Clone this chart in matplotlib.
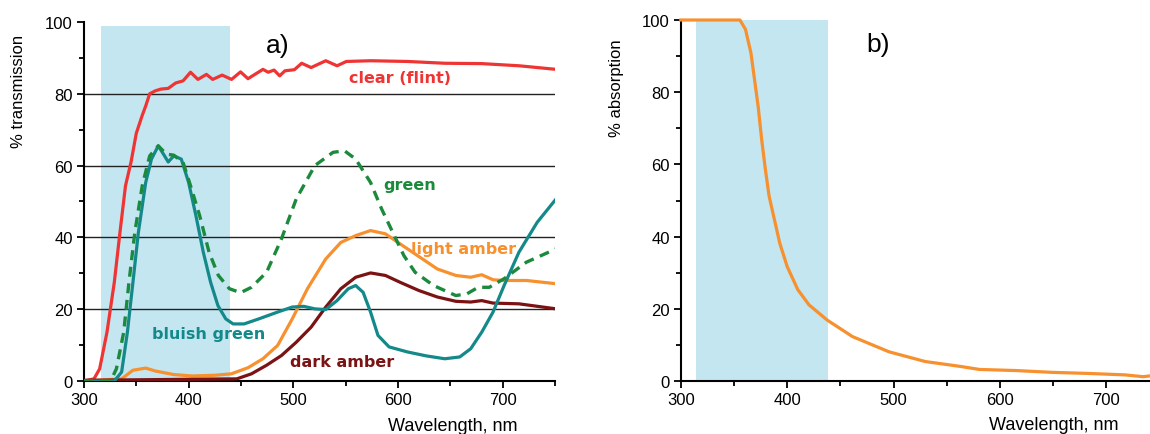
import matplotlib.pyplot as plt
from matplotlib.ticker import MultipleLocator

plt.rcParams['font.family'] = ['Liberation Sans', 'DejaVu Sans']

# ---- panel a: transmission of glass types ----
clear_x = [300, 309.6, 315, 322, 329, 334.4, 339.7, 345, 350, 355.7, 359, 362.8, 368, 373.4,
           380.5, 387.6, 394.7, 401.8, 408.9, 417, 423, 432, 441, 449.6, 456.7, 471, 476,
           481.6, 487, 492, 501, 508, 517, 531, 541.8, 550.7, 574, 609, 644.7, 680, 715.6, 751]
clear_y = [0, 0.6, 3.4, 13.6, 27.5, 41.4, 54.4, 61, 69, 74, 76.6, 80, 80.8, 81.3,
           81.5, 83, 83.6, 86, 84, 85.4, 84, 85.2, 84, 86.1, 84.2, 86.8, 86,
           86.6, 85, 86.4, 86.7, 88.5, 87.3, 89.2, 87.8, 89, 89.2, 89, 88.5, 88.4, 87.8, 86.8]

bluish_x = [300, 329, 336, 341.5, 346.8, 352, 359, 364.5, 371, 377, 380.5, 385.8, 393, 400,
            407, 414, 421, 428, 435.5, 442.5, 453, 467, 485, 499, 510, 520.6, 531, 541.8,
            552.5, 559.6, 566.7, 573.8, 580.9, 591.5, 609, 627, 644.7, 659, 669.5, 680,
            690.8, 701.4, 715.6, 733, 751]
bluish_y = [0, 0, 2.5, 13.6, 27.5, 41.4, 55.3, 61.8, 65.5, 62.7, 61, 62.7, 61.8, 55.3,
            46, 35.9, 27.5, 21, 17.3, 15.9, 15.9, 17.3, 19.2, 20.6, 20.8, 20.1, 19.9, 22.4,
            25.7, 26.6, 24.7, 19.2, 12.7, 9.5, 8.1, 7, 6.2, 6.7, 9, 13.6,
            19.2, 26.6, 35.9, 44.2, 50.7]

green_x = [300, 325.5, 331, 338, 343, 348.6, 355.7, 362.8, 371, 378.7, 385.8, 394.7, 401.8,
           410.6, 419.5, 428.4, 439, 449.6, 460, 474.5, 488.7, 502.8, 520.6, 538, 549,
           559.6, 573.8, 584.4, 595, 605.7, 616.3, 634, 655.3, 666, 676.6, 687.2, 701.4,
           722.7, 751]
green_y = [0, 0, 3.4, 13.6, 27.5, 41.4, 54.4, 62.7, 65.5, 63.2, 62.9, 60.9, 54.4,
           46, 35.9, 29.4, 25.7, 24.6, 26.1, 30.3, 39.6, 50.7, 60, 63.7, 64.1,
           61.8, 55.3, 47.9, 41.4, 34.9, 30.3, 26.6, 23.8, 24.3, 26.1, 26.1, 28.5,
           33.1, 36.8]

light_x = [300, 336, 346.8, 359, 368, 385.8, 403.5, 424.8, 440.8, 456.7, 471, 485, 499,
           513.5, 531, 545.4, 559.6, 573.8, 588, 602, 616.3, 637.6, 655.3, 669.5, 680,
           690.8, 701.4, 722.7, 751]
light_y = [0, 0.6, 3, 3.6, 2.8, 1.8, 1.4, 1.6, 2, 3.7, 6.2, 9.9, 17.3,
           25.7, 34, 38.6, 40.5, 41.9, 41, 38.2, 35.4, 31.2, 29.4, 28.9, 29.6,
           28.2, 28, 28, 27.1]

dark_x = [300, 446, 460, 474.5, 488.7, 502.8, 517, 531, 545.4, 559.6, 573.8, 588, 602,
          620, 637.6, 655.3, 669.5, 680, 690.8, 715.6, 751]
dark_y = [0.2, 0.6, 2, 4.4, 7.1, 10.8, 15, 20.6, 25.7, 28.9, 30.1, 29.4, 27.5,
          25.2, 23.4, 22.2, 22, 22.4, 21.7, 21.5, 20.1]

# ---- panel b: absorption ----
abs_x = [300, 355.6, 360.8, 365.9, 369.3, 372.7, 376, 379.5, 383, 388, 393, 400, 410,
         420.5, 437.5, 461.4, 495.6, 529.7, 563.8, 580.9, 615, 649, 683, 717.4, 734.5, 740.6]
abs_y = [100, 100, 97.4, 90.9, 83.5, 76.1, 66.9, 58.6, 51.2, 44.7, 38.2, 31.7, 25.3,
         21.1, 16.9, 12.3, 8.1, 5.4, 4, 3.2, 2.9, 2.4, 2.1, 1.7, 1.2, 1.4]

RED = '#ef3434'
TEAL = '#14898a'
GREEN = '#1b8a3c'
ORANGE = '#f7902e'
DARK = '#7b1214'
BLUE = '#c3e6f1'

fig = plt.figure(figsize=(11.5, 4.35), dpi=100)
ax1 = fig.add_axes([0.073, 0.1218, 0.4096, 0.8254])
ax2 = fig.add_axes([0.592, 0.1218, 0.408, 0.8299])


def style_axis(ax, xmax):
    ax.set_xlim(300, xmax)
    ax.set_ylim(0, 100)
    for s in ['top', 'right']:
        ax.spines[s].set_visible(False)
    for s in ['left', 'bottom']:
        ax.spines[s].set_linewidth(1.5)
    ax.xaxis.set_major_locator(MultipleLocator(100))
    ax.xaxis.set_minor_locator(MultipleLocator(50))
    ax.yaxis.set_major_locator(MultipleLocator(20))
    ax.yaxis.set_minor_locator(MultipleLocator(10))
    ax.tick_params(which='major', length=5, width=1.3, labelsize=12, pad=3)
    ax.tick_params(which='minor', length=3.5, width=1.3)


style_axis(ax1, 750)
style_axis(ax2, 741)

# panel a
ax1.axvspan(316, 440, ymin=0, ymax=0.99, color=BLUE, lw=0, zorder=0)
for yv in [20, 40, 60, 80]:
    ax1.axhline(yv, color='#222222', lw=1.0, zorder=1)
ax1.plot(clear_x, clear_y, color=RED, lw=2.3, zorder=3)
ax1.plot(light_x, light_y, color=ORANGE, lw=2.3, zorder=3)
ax1.plot(dark_x, dark_y, color=DARK, lw=2.3, zorder=3)
ax1.plot(bluish_x, bluish_y, color=TEAL, lw=2.3, zorder=4)
ax1.plot(green_x, green_y, color=GREEN, lw=2.4, ls=(0, (3, 2)), zorder=5)

lab = dict(fontweight='bold', fontsize=11.5, family='DejaVu Sans', ha='center', va='center')
ax1.text(601.8, 84.4, 'clear (flint)', color=RED, **lab)
ax1.text(611.4, 54.7, 'green', color=GREEN, **lab)
ax1.text(663, 37, 'light amber', color=ORANGE, **lab)
ax1.text(419, 13.1, 'bluish green', color=TEAL, **lab)
ax1.text(547, 5.5, 'dark amber', color=DARK, **lab)
ax1.text(485, 93.5, 'a)', fontsize=19, ha='center', va='center')

ax1.set_xlabel('Wavelength, nm', fontsize=13)
ax1.xaxis.set_label_coords(0.783, -0.10)
ax1.set_ylabel('% transmission', fontsize=12)
ax1.yaxis.set_label_coords(-0.123, 0.81)

# panel b
ax2.axvspan(314, 438, color=BLUE, lw=0, zorder=0)
ax2.plot(abs_x, abs_y, color=ORANGE, lw=2.3, zorder=3, clip_on=False)
ax2.text(485, 93.3, 'b)', fontsize=19, ha='center', va='center')

ax2.set_xlabel('Wavelength, nm', fontsize=13)
ax2.xaxis.set_label_coords(0.795, -0.098)
ax2.set_ylabel('% absorption', fontsize=12)
ax2.yaxis.set_label_coords(-0.12, 0.815)

plt.savefig('out.png', dpi=100)
